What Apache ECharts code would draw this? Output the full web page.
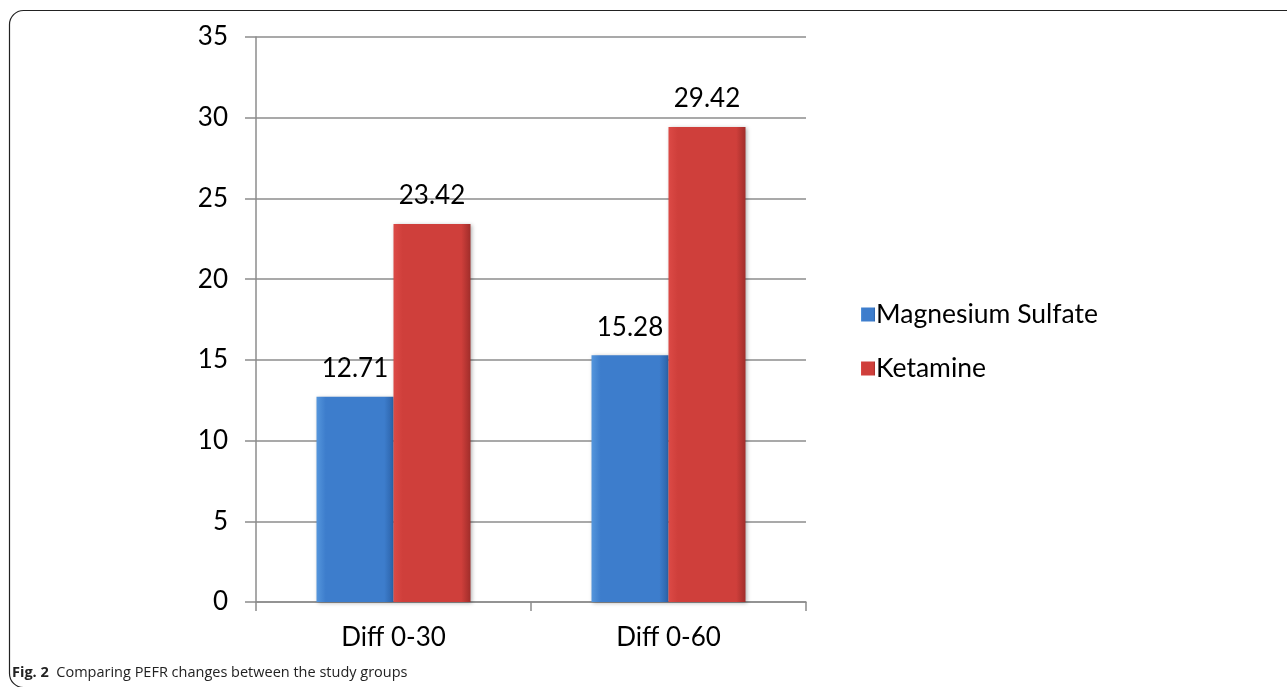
<!DOCTYPE html>
<html>
<head>
<meta charset="utf-8">
<script src="https://cdn.jsdelivr.net/npm/echarts@6/dist/echarts.min.js"></script>
<style>
html,body{margin:0;padding:0;background:#fff;}
#chart{width:1287px;height:687px;}
</style>
</head>
<body>
<div id="chart"></div>
<script>
const categories = ['Diff 0-30', 'Diff 0-60'];
const magnesium = [12.71, 15.28];
const ketamine = [23.42, 29.42];
const seriesNames = ['Magnesium Sulfate', 'Ketamine'];
const yTicks = { min: 0, max: 35, interval: 5 };
const captionBold = 'Fig. 2';
const captionText = 'Comparing PEFR changes between the study groups';

const FONT = 'Lato, "Open Sans", sans-serif';
const FS = 26;
function grad(c1, c2, c3) {
  return new echarts.graphic.LinearGradient(0, 0, 1, 0, [
    { offset: 0, color: c1 }, { offset: 0.12, color: c2 },
    { offset: 0.88, color: c2 }, { offset: 1, color: c3 }
  ]);
}
const blue = grad('#5596dc', '#3d7dcc', '#2c62a8');
const red = grad('#dc4a46', '#cf3f3b', '#a02d2a');

const chart = echarts.init(document.getElementById('chart'));
const labelStyle = { show: true, position: 'top', distance: 15, color: '#000', fontSize: FS, fontFamily: FONT };
const shadow = { shadowBlur: 4, shadowColor: 'rgba(0,0,0,0.3)', shadowOffsetX: 1, shadowOffsetY: 1 };
chart.setOption({
  animation: false,
  backgroundColor: '#fff',
  grid: { left: 256, top: 37, right: 481, bottom: 85 },
  legend: {
    orient: 'vertical', left: 856, top: 296, itemWidth: 14, itemHeight: 14, itemGap: 27,
    icon: 'rect',
    textStyle: { fontSize: 26.5, color: '#000', fontFamily: FONT, padding: [0, 0, 0, -4] },
    data: seriesNames
  },
  xAxis: {
    type: 'category', data: categories,
    axisLine: { lineStyle: { color: '#8c8c8c', width: 1.5 } },
    axisTick: { show: true, length: 9, lineStyle: { color: '#8c8c8c', width: 1.5 } },
    axisLabel: { color: '#000', fontSize: FS, fontFamily: FONT, margin: 23 }
  },
  yAxis: {
    type: 'value', min: yTicks.min, max: yTicks.max, interval: yTicks.interval,
    axisLine: { show: true, lineStyle: { color: '#8c8c8c', width: 1.5 } },
    axisTick: { show: true, length: 11, lineStyle: { color: '#8c8c8c', width: 1.5 } },
    splitLine: { lineStyle: { color: '#8c8c8c', width: 1.5 } },
    axisLabel: { color: '#000', fontSize: FS, fontFamily: FONT, margin: 28 }
  },
  series: [
    { name: seriesNames[0], type: 'bar', data: magnesium, barWidth: 77, barGap: '0%',
      itemStyle: Object.assign({ color: blue }, shadow), label: labelStyle },
    { name: seriesNames[1], type: 'bar', data: ketamine, barWidth: 77, barGap: '0%',
      itemStyle: Object.assign({ color: red }, shadow), label: labelStyle }
  ],
  graphic: [
    { type: 'rect', shape: { x: 9.5, y: 10.5, width: 1300, height: 677, r: 14 },
      style: { fill: 'none', stroke: '#222', lineWidth: 1.2 }, silent: true, z: -1 },
    { type: 'text', left: 12, top: 665,
      style: { text: '{b|' + captionBold + '}  ' + captionText, fontSize: 14.5, fill: '#222',
        fontFamily: '"Open Sans", sans-serif',
        rich: { b: { fontWeight: 'bold', fontSize: 14.5, fill: '#222', fontFamily: '"Open Sans", sans-serif' } } } }
  ]
});
</script>
</body>
</html>
